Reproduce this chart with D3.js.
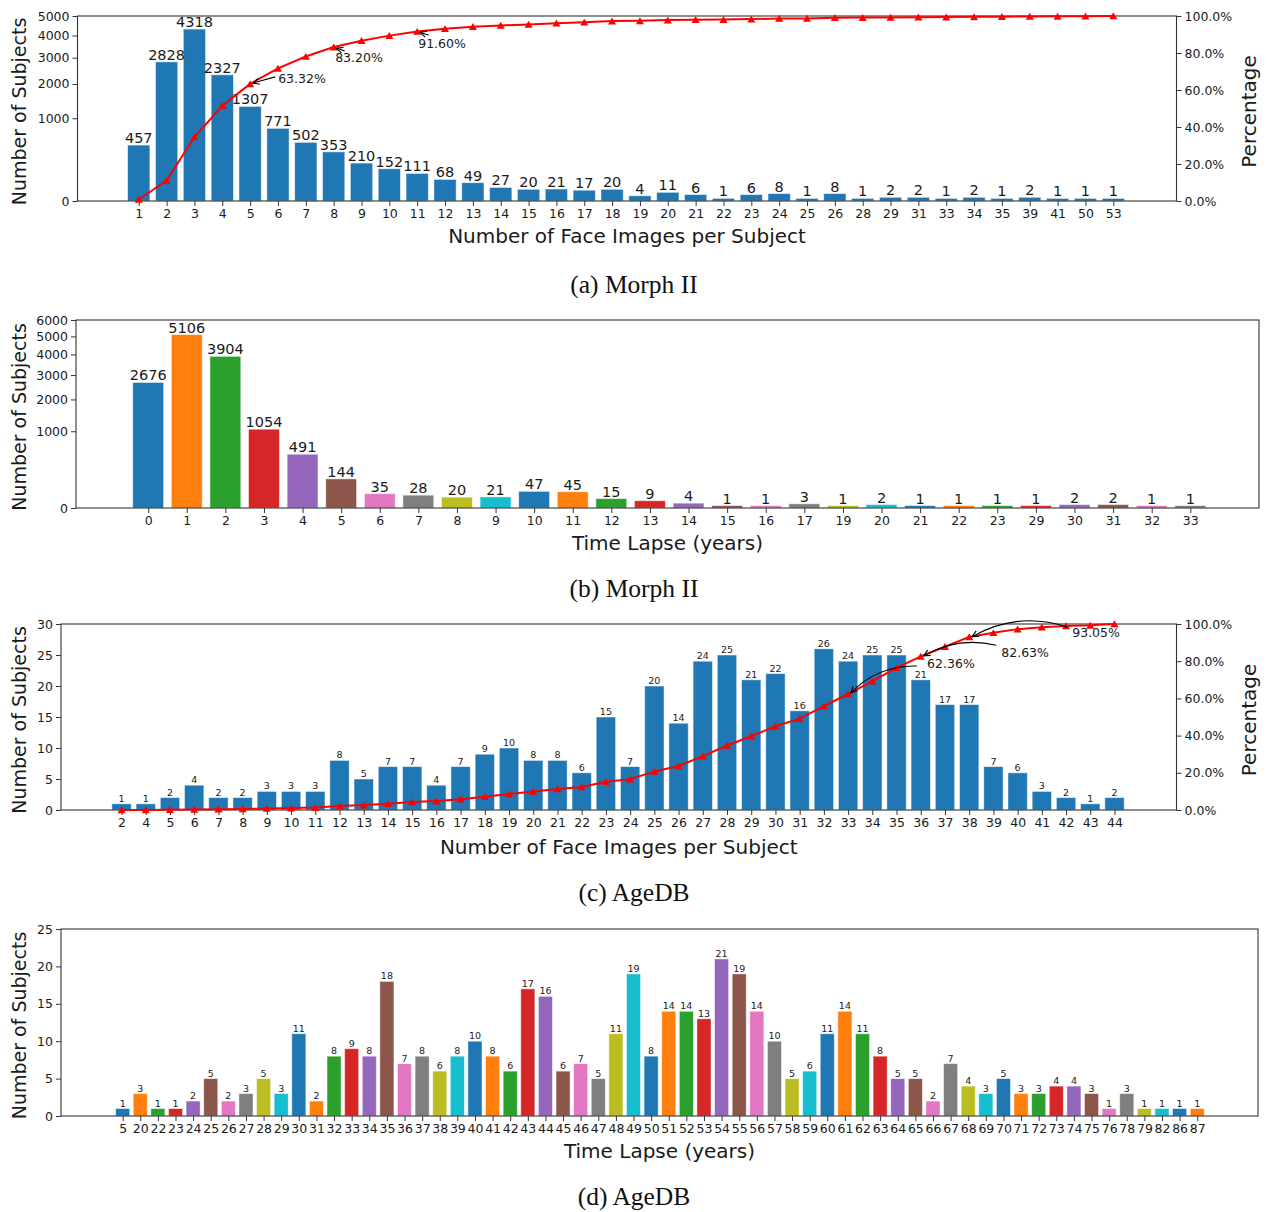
<!DOCTYPE html>
<html>
<head>
<meta charset="utf-8">
<script src="https://cdn.jsdelivr.net/npm/d3@7"></script>
<style>
  body { margin: 0; background: #fff; }
  svg text { font-family: "DejaVu Sans", sans-serif; fill: #1a1a1a; }
  svg text.caption { font-family: "Liberation Serif", "Times New Roman", serif; fill: #111; }
</style>
</head>
<body>
<script>
// ---- (a) Morph II: number of face images per subject ----
const morphImgCats   = [1,2,3,4,5,6,7,8,9,10,11,12,13,14,15,16,17,18,19,20,21,22,23,24,25,26,28,29,31,33,34,35,39,41,50,53];
const morphImgCounts = [457,2828,4318,2327,1307,771,502,353,210,152,111,68,49,27,20,21,17,20,4,11,6,1,6,8,1,8,1,2,2,1,2,1,2,1,1,1];
const morphImgYTicks = [0,1000,2000,3000,4000,5000];
const morphImgMarked = [5, 8, 11];

// ---- (b) Morph II: time lapse per subject ----
const morphLapseCats   = [0,1,2,3,4,5,6,7,8,9,10,11,12,13,14,15,16,17,19,20,21,22,23,29,30,31,32,33];
const morphLapseCounts = [2676,5106,3904,1054,491,144,35,28,20,21,47,45,15,9,4,1,1,3,1,2,1,1,1,1,2,2,1,1];
const morphLapseYTicks = [0,1000,2000,3000,4000,5000,6000];

// ---- (c) AgeDB: number of face images per subject ----
const agedbImgCats   = [2,4,5,6,7,8,9,10,11,12,13,14,15,16,17,18,19,20,21,22,23,24,25,26,27,28,29,30,31,32,33,34,35,36,37,38,39,40,41,42,43,44];
const agedbImgCounts = [1,1,2,4,2,2,3,3,3,8,5,7,7,4,7,9,10,8,8,6,15,7,20,14,24,25,21,22,16,26,24,25,25,21,17,17,7,6,3,2,1,2];
const agedbImgYTicks = [0,5,10,15,20,25,30];
const agedbImgMarked = [33, 36, 38];

// ---- (d) AgeDB: time lapse per subject ----
const agedbLapseCats   = [5,20,22,23,24,25,26,27,28,29,30,31,32,33,34,35,36,37,38,39,40,41,42,43,44,45,46,47,48,49,50,51,52,53,54,55,56,57,58,59,60,61,62,63,64,65,66,67,68,69,70,71,72,73,74,75,76,78,79,82,86,87];
const agedbLapseCounts = [1,3,1,1,2,5,2,3,5,3,11,2,8,9,8,18,7,8,6,8,10,8,6,17,16,6,7,5,11,19,8,14,14,13,21,19,14,10,5,6,11,14,11,8,5,5,2,7,4,3,5,3,3,4,4,3,1,3,1,1,1,1];
const agedbLapseYTicks = [0,5,10,15,20,25];

const pctTicks = [0,0.2,0.4,0.6,0.8,1.0];

const W = 1267, H = 1212;
const svg = d3.select("body").append("svg").attr("width", W).attr("height", H);

const BLUE = "#1f77b4";
const cycle = i => d3.schemeCategory10[i % 10];

// Open "->" style arrow from (x1,y1) to (x2,y2), optionally bowed upward
function arrow(g, x1, y1, x2, y2, rad) {
  const dx = x2 - x1, dy = y2 - y1, len = Math.hypot(dx, dy);
  let nx = -dy / len, ny = dx / len;
  if (ny > 0) { nx = -nx; ny = -ny; }           // bow toward the top
  const cx = (x1 + x2) / 2 + nx * rad * len;
  const cy = (y1 + y2) / 2 + ny * rad * len;
  g.append("path")
    .attr("d", `M${x1},${y1}Q${cx},${cy} ${x2},${y2}`)
    .attr("fill", "none").attr("stroke", "#000").attr("stroke-width", 1.1);
  const ang = Math.atan2(y2 - cy, x2 - cx);
  const hl = 7, hw = 0.45;
  g.append("path")
    .attr("d", `M${x2 - hl * Math.cos(ang - hw)},${y2 - hl * Math.sin(ang - hw)}L${x2},${y2}L${x2 - hl * Math.cos(ang + hw)},${y2 - hl * Math.sin(ang + hw)}`)
    .attr("fill", "none").attr("stroke", "#000").attr("stroke-width", 1.1);
}

function drawPanel(cfg) {
  const { cats, counts, box, pad, y, yTicks, color, valueSize, xTitle, titleY, caption, captionY } = cfg;
  const n = cats.length;
  const g = svg.append("g");
  const x = d3.scaleLinear().domain([-pad[0], n - 1 + pad[1]]).range([box.left, box.right]);
  const half = 0.4;

  // bars
  g.append("g").selectAll("rect").data(counts).join("rect")
    .attr("x", (d, i) => x(i - half))
    .attr("width", x(half) - x(-half))
    .attr("y", d => y(d))
    .attr("height", d => y(0) - y(d))
    .attr("fill", (d, i) => color(i))
    .attr("stroke", "#fff").attr("stroke-opacity", 0.55).attr("stroke-width", 0.9);

  // value labels
  g.append("g").selectAll("text").data(counts).join("text")
    .attr("x", (d, i) => x(i))
    .attr("y", d => y(d) - 2)
    .attr("text-anchor", "middle")
    .attr("font-size", valueSize)
    .text(d => d);

  // axes
  const xAxis = d3.axisBottom(x).tickValues(d3.range(n)).tickFormat(i => cats[i])
    .tickSize(5).tickSizeOuter(0).tickPadding(3);
  const gx = g.append("g").attr("transform", `translate(0,${box.bottom})`).call(xAxis);
  const yAxis = d3.axisLeft(y).tickValues(yTicks).tickFormat(d3.format("d"))
    .tickSize(5).tickSizeOuter(0).tickPadding(3);
  const gy = g.append("g").attr("transform", `translate(${box.left},0)`).call(yAxis);
  [gx, gy].forEach(a => {
    a.select(".domain").remove();
    a.selectAll("text").attr("font-size", 12.5).attr("fill", "#1a1a1a").attr("font-family", "DejaVu Sans");
    a.selectAll("line").attr("stroke", "#333");
  });

  // frame
  g.append("rect")
    .attr("x", box.left).attr("y", box.top)
    .attr("width", box.right - box.left).attr("height", box.bottom - box.top)
    .attr("fill", "none").attr("stroke", "#333").attr("stroke-width", 1.1);

  // titles
  g.append("text")
    .attr("transform", `translate(19.5,${(box.top + box.bottom) / 2 + 3}) rotate(-90)`)
    .attr("dy", "0.35em").attr("text-anchor", "middle").attr("font-size", 19)
    .text("Number of Subjects");
  g.append("text")
    .attr("x", (box.left + box.right) / 2).attr("y", titleY)
    .attr("text-anchor", "middle").attr("font-size", 20)
    .text(xTitle);
  g.append("text").attr("class", "caption")
    .attr("x", 634).attr("y", captionY)
    .attr("text-anchor", "middle").attr("font-size", 25.5)
    .text(caption);

  return { g, x };
}

// Cumulative share of face images, with a right-hand percentage axis
function drawCumulative(p, cfg) {
  const { cats, counts, box, marked, notes } = cfg;
  const images = cats.map((c, i) => c * counts[i]);
  const cum = Array.from(d3.cumsum(images));
  const total = cum[cum.length - 1];
  const pct = cum.map(v => v / total);
  const yR = d3.scaleLinear().domain([0, 1]).range([box.bottom, box.top]);
  const g = p.g;

  const rAxis = d3.axisRight(yR).tickValues(pctTicks).tickFormat(d3.format(".1%"))
    .tickSize(5).tickSizeOuter(0).tickPadding(3);
  const gr = g.append("g").attr("transform", `translate(${box.right},0)`).call(rAxis);
  gr.select(".domain").remove();
  gr.selectAll("text").attr("font-size", 12.5).attr("fill", "#1a1a1a").attr("font-family", "DejaVu Sans");
  gr.selectAll("line").attr("stroke", "#333");

  g.append("text")
    .attr("transform", `translate(1249,${(box.top + box.bottom) / 2 + 3}) rotate(-90)`)
    .attr("dy", "0.35em").attr("text-anchor", "middle").attr("font-size", 20)
    .text("Percentage");

  const line = d3.line().x((d, i) => p.x(i)).y(d => yR(d));
  g.append("path").datum(pct).attr("d", line)
    .attr("fill", "none").attr("stroke", "#ff0000").attr("stroke-width", 2);
  g.append("g").selectAll("path").data(pct).join("path")
    .attr("transform", (d, i) => `translate(${p.x(i)},${yR(d) + 1})`)
    .attr("d", d3.symbol(d3.symbolTriangle).size(28))
    .attr("fill", "#ff0000");

  marked.forEach((c, k) => {
    const i = cats.indexOf(c);
    const px = p.x(i), py = yR(pct[i]);
    const o = notes[k];
    g.append("text")
      .attr("x", px + o.tx).attr("y", py + o.ty).attr("dy", "0.35em")
      .attr("font-size", 12.5)
      .text(d3.format(".2%")(pct[i]));
    const ax = px + o.ax, ay = py + o.ay;
    const d = Math.hypot(ax - px, ay - py);
    const hx = px + (ax - px) * 3 / d, hy = py + (ay - py) * 3 / d;
    arrow(g, ax, ay, hx, hy, o.rad);
  });
}

// (a)
const boxA = { left: 77.5, right: 1176.5, top: 16, bottom: 201 };
const pA = drawPanel({
  cats: morphImgCats, counts: morphImgCounts, box: boxA, pad: [2.2, 2.27],
  y: d3.scaleSqrt().domain([0, 5000]).range([boxA.bottom, boxA.top]),
  yTicks: morphImgYTicks, color: () => BLUE, valueSize: 14.5,
  xTitle: "Number of Face Images per Subject", titleY: 243,
  caption: "(a) Morph II", captionY: 293
});
drawCumulative(pA, {
  cats: morphImgCats, counts: morphImgCounts, box: boxA, marked: morphImgMarked,
  notes: [
    { tx: 28, ty: -5, ax: 25, ay: -7, rad: 0 },
    { tx: 1.5, ty: 10.5, ax: 11, ay: 4, rad: 0 },
    { tx: 1, ty: 12, ax: 11.5, ay: 3.5, rad: 0 }
  ]
});

// (b)
const boxB = { left: 76, right: 1259, top: 320, bottom: 508 };
drawPanel({
  cats: morphLapseCats, counts: morphLapseCounts, box: boxB, pad: [1.87, 1.78],
  y: d3.scaleSqrt().domain([0, 6000]).range([boxB.bottom, boxB.top]),
  yTicks: morphLapseYTicks, color: cycle, valueSize: 14.5,
  xTitle: "Time Lapse (years)", titleY: 550,
  caption: "(b) Morph II", captionY: 597
});

// (c)
const boxC = { left: 61, right: 1176.5, top: 624, bottom: 810 };
const pC = drawPanel({
  cats: agedbImgCats, counts: agedbImgCounts, box: boxC, pad: [2.5, 2.56],
  y: d3.scaleLinear().domain([0, 30]).range([boxC.bottom, boxC.top]),
  yTicks: agedbImgYTicks, color: () => BLUE, valueSize: 9.5,
  xTitle: "Number of Face Images per Subject", titleY: 854,
  caption: "(c) AgeDB", captionY: 901
});
drawCumulative(pC, {
  cats: agedbImgCats, counts: agedbImgCounts, box: boxC, marked: agedbImgMarked,
  notes: [
    { tx: 79, ty: -30, ax: 69, ay: -28, rad: 0.22 },
    { tx: 80.5, ty: -4, ax: 75.5, ay: -11, rad: 0.2 },
    { tx: 103, ty: -4, ax: 98, ay: -10, rad: 0.22 }
  ]
});

// (d)
const boxD = { left: 61, right: 1258, top: 929, bottom: 1116 };
drawPanel({
  cats: agedbLapseCats, counts: agedbLapseCounts, box: boxD, pad: [3.5, 3.45],
  y: d3.scaleLinear().domain([0, 25]).range([boxD.bottom, boxD.top]),
  yTicks: agedbLapseYTicks, color: cycle, valueSize: 9.5,
  xTitle: "Time Lapse (years)", titleY: 1158,
  caption: "(d) AgeDB", captionY: 1205
});
</script>
</body>
</html>
